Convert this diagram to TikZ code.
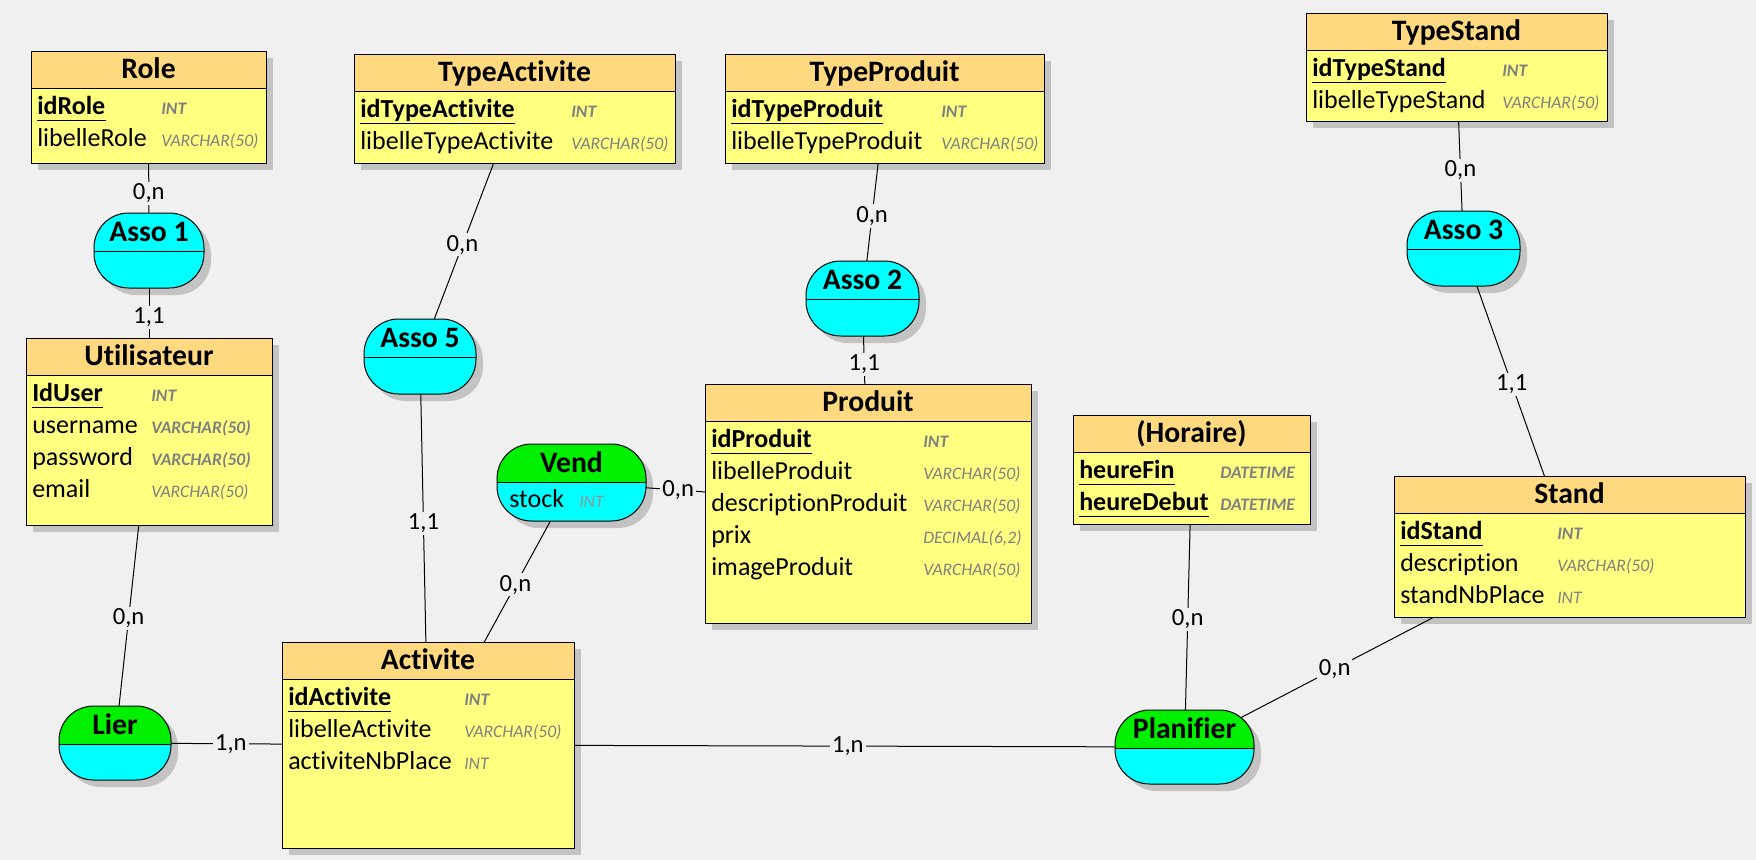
\documentclass[tikz,border=0pt]{standalone}
\usepackage{fontspec}
\setmainfont{Carlito}[Ligatures=NoCommon]
\usetikzlibrary{fit}
\pgfdeclarelayer{shadowlayer}
\pgfdeclarelayer{linelayer}
\pgfsetlayers{shadowlayer,linelayer,main}

\definecolor{bgc}{RGB}{240,240,240}
\definecolor{enthead}{RGB}{255,217,128}
\definecolor{entbody}{RGB}{255,255,128}
\definecolor{shadowc}{RGB}{195,195,195}
\definecolor{assocyan}{RGB}{0,255,255}
\definecolor{assogreen}{RGB}{0,240,0}
\definecolor{typec}{RGB}{128,128,128}
\definecolor{typel}{RGB}{140,150,150}

\newcommand\ftitle{\fontsize{22.25}{26}\selectfont\bfseries}
\newcommand\fattr{\fontsize{19.5}{24}\selectfont}
\newcommand\ftype{\fontsize{13.2}{15}\selectfont\itshape}
\newcommand\fcard{\fontsize{18.5}{22}\selectfont}

\tikzset{
  titletext/.style={inner sep=0pt, anchor=base, font=\ftitle},
  attr/.style={inner sep=0pt, anchor=base west, font=\fattr},
  pkattr/.style={inner sep=0pt, anchor=base west, font=\fattr\bfseries},
  typ/.style={inner sep=0pt, anchor=base west, font=\ftype, text=typec},
  typb/.style={inner sep=0pt, anchor=base west, font=\ftype\bfseries, text=typec},
  card/.style={fill=bgc, inner sep=1.5pt, font=\fcard},
  link/.style={draw=black, line width=0.75pt},
  frame/.style={draw=black, line width=0.75pt}
}

% entity: name, x1, y1, x2, y2, title
\newcommand\entity[6]{%
  \begin{pgfonlayer}{shadowlayer}
    \fill[shadowc] (#2+7,#3+7) rectangle (#4+7,#5+7);
  \end{pgfonlayer}
  \node[fit={(#2,#3) (#4,#5)}, inner sep=0pt, fill=entbody] (#1) {};
  \fill[enthead] (#2,#3) rectangle (#4,#3+37.5);
  \draw[frame] (#2,#3+37.5) -- (#4,#3+37.5);
  \draw[frame] (#2,#3) rectangle (#4,#5);
  \node[titletext] (#1-title) at ({(#2+#4)/2},#3+27.5) {#6};
}

% association: name, x1, y1, x2, y2, head colour, title
\newcommand\assoc[7]{%
  \begin{pgfonlayer}{shadowlayer}
    \fill[shadowc, rounded corners=26pt] (#2+7,#3+7) rectangle (#4+7,#5+7);
  \end{pgfonlayer}
  \node[fit={(#2,#3) (#4,#5)}, inner sep=0pt] (#1) {};
  \begin{scope}
    \clip[rounded corners=26pt] (#2,#3) rectangle (#4,#5);
    \fill[assocyan] (#2,#3) rectangle (#4,#5);
    \fill[#6] (#2,#3) rectangle (#4,#3+38);
  \end{scope}
  \draw[frame] (#2,#3+38) -- (#4,#3+38);
  \draw[frame, rounded corners=26pt] (#2,#3) rectangle (#4,#5);
  \node[titletext] (#1-title) at ({(#2+#4)/2},#3+28) {#7};
}

% primary key row: node name, x, y, text, type x, type
\newcommand\pkrow[6]{%
  \node[pkattr] (#1) at (#2,#3) {#4};
  \draw[line width=0.9pt] ([yshift=-4.5pt]#1.base west) -- ([yshift=-4.5pt]#1.base east);
  \node[typb] (#1-t) at (#5,#3) {#6};
}
% ordinary row: node name, x, y, text, type x, type, type style
\newcommand\arow[7]{%
  \node[attr] (#1) at (#2,#3) {#4};
  \node[#7] (#1-t) at (#5,#3) {#6};
}

\begin{document}
\begin{tikzpicture}[x=0.75pt,y=-0.75pt]
\begin{pgfonlayer}{shadowlayer}
  \fill[bgc] (0,0) rectangle (1756,860);
\end{pgfonlayer}
\useasboundingbox (0,0) rectangle (1756,860);

% ---------- entities ----------
\entity{role}{31}{51}{266}{163}{Role}
\pkrow{r1}{37}{114.5}{idRole}{161}{INT}
\arow{r2}{37}{146.5}{libelleRole}{161}{VARCHAR(50)}{typ}

\entity{user}{26}{338}{272}{525}{Utilisateur}
\pkrow{u1}{32}{401.5}{IdUser}{151}{INT}
\arow{u2}{32}{433.5}{username}{151}{VARCHAR(50)}{typb}
\arow{u3}{32}{465.5}{password}{151}{VARCHAR(50)}{typb}
\arow{u4}{32}{497.5}{email}{151}{VARCHAR(50)}{typ}

\entity{typeact}{354}{54}{675}{163}{TypeActivite}
\pkrow{ta1}{360}{117.5}{idTypeActivite}{571}{INT}
\arow{ta2}{360}{149.5}{libelleTypeActivite}{571}{VARCHAR(50)}{typ}

\entity{typeprod}{725}{54}{1044}{163}{TypeProduit}
\pkrow{tp1}{731}{117.5}{idTypeProduit}{941}{INT}
\arow{tp2}{731}{149.5}{libelleTypeProduit}{941}{VARCHAR(50)}{typ}

\entity{typestand}{1306}{13}{1607}{121}{TypeStand}
\pkrow{ts1}{1312}{76.5}{idTypeStand}{1502}{INT}
\arow{ts2}{1312}{108.5}{libelleTypeStand}{1502}{VARCHAR(50)}{typ}

\entity{produit}{705}{384}{1031}{623}{Produit}
\pkrow{p1}{711}{447.5}{idProduit}{923}{INT}
\arow{p2}{711}{479.5}{libelleProduit}{923}{VARCHAR(50)}{typ}
\arow{p3}{711}{511.5}{descriptionProduit}{923}{VARCHAR(50)}{typ}
\arow{p4}{711}{543.5}{prix}{923}{DECIMAL(6,2)}{typ}
\arow{p5}{711}{575.5}{imageProduit}{923}{VARCHAR(50)}{typ}

\entity{horaire}{1073}{415}{1310}{524}{(Horaire)}
\pkrow{h1}{1079}{478.5}{heureFin}{1220}{DATETIME}
\pkrow{h2}{1079}{510.5}{heureDebut}{1220}{DATETIME}

\entity{stand}{1394}{476}{1745}{617}{Stand}
\pkrow{s1}{1400}{539.5}{idStand}{1557}{INT}
\arow{s2}{1400}{571.5}{description}{1557}{VARCHAR(50)}{typ}
\arow{s3}{1400}{603.5}{standNbPlace}{1557}{INT}{typ}

\entity{activite}{282}{642}{574}{848}{Activite}
\pkrow{a1}{288}{705.5}{idActivite}{464}{INT}
\arow{a2}{288}{737.5}{libelleActivite}{464}{VARCHAR(50)}{typ}
\arow{a3}{288}{769.5}{activiteNbPlace}{464}{INT}{typ}

% ---------- associations ----------
\assoc{asso1}{94}{213}{204}{288}{assocyan}{Asso 1}
\assoc{asso5}{364}{319}{476}{394}{assocyan}{Asso 5}
\assoc{asso2}{806}{261}{919}{336}{assocyan}{Asso 2}
\assoc{asso3}{1407}{211}{1520}{286}{assocyan}{Asso 3}
\assoc{lier}{59}{706}{171}{780}{assogreen}{Lier}
\assoc{vend}{497}{444}{646}{521}{assogreen}{Vend}
\node[attr] (v1) at (509,507) {stock};
\node[typ, text=typel] (v1-t) at (579,507) {INT};
\assoc{planifier}{1115}{710}{1254}{784}{assogreen}{Planifier}

% ---------- connectors ----------
\begin{pgfonlayer}{linelayer}
\draw[link] (role.center) -- node[card,pos=0.60]{0,n} (asso1.center);
\draw[link] (asso1.center) -- node[card,pos=0.37]{1,1} (user.center);
\draw[link] (typeact.center) -- node[card,pos=0.55]{0,n} (asso5.center);
\draw[link] (asso5.center) -- node[card,pos=0.43]{1,1} (activite.center);
\draw[link] (typeprod.center) -- node[card,pos=0.566]{0,n} (asso2.center);
\draw[link] (asso2.center) -- node[card,pos=0.32]{1,1} (produit.center);
\draw[link] (typestand.center) -- node[card,pos=0.57]{0,n} (asso3.center);
\draw[link] (asso3.center) -- node[card,pos=0.455]{1,1} (stand.center);
\draw[link] (user.center) -- node[card,pos=0.60]{0,n} (lier.center);
\draw[link] (lier.center) -- node[card,pos=0.37]{1,n} (activite.center);
\draw[link] (vend.center) -- node[card,pos=0.39]{0,n} (activite.center);
\draw[link] (vend.center) -- node[card,pos=0.36]{0,n} (produit.center);
\draw[link] (activite.center) -- node[card,pos=0.555]{1,n} (planifier.center);
\draw[link] (horaire.center) -- node[card,pos=0.54]{0,n} (planifier.center);
\draw[link] (stand.center) -- node[card,pos=0.61]{0,n} (planifier.center);
\end{pgfonlayer}
\end{tikzpicture}
\end{document}
